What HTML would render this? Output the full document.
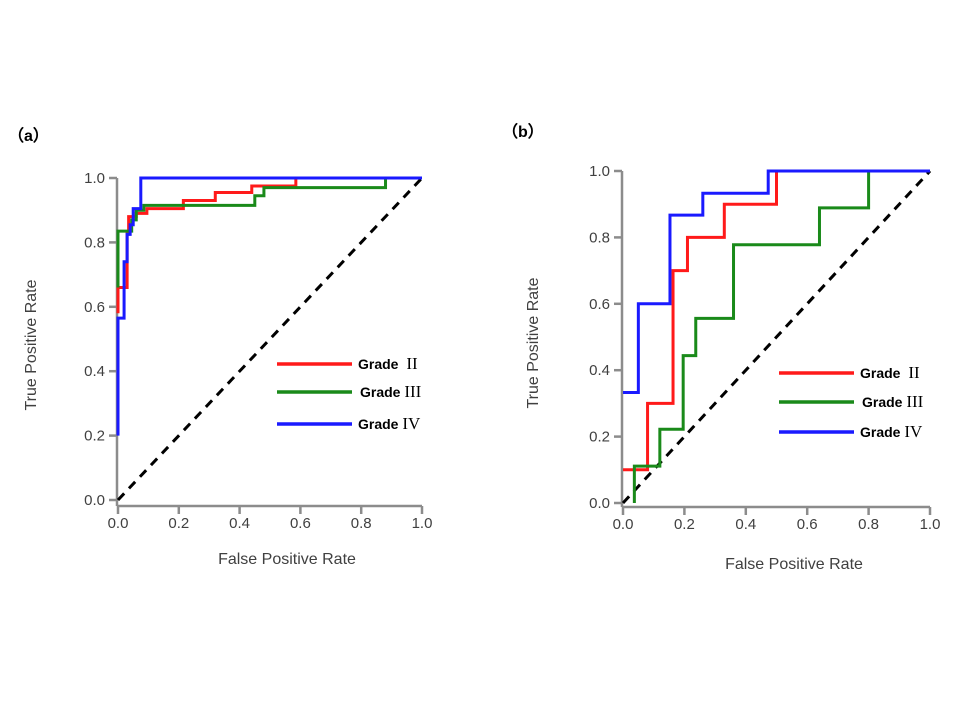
<!DOCTYPE html>
<html><head><meta charset="utf-8"><style>
body{margin:0;background:#fff;width:960px;height:720px;overflow:hidden}
svg{display:block}
text{font-family:"Liberation Sans",Arial,sans-serif}
</style></head><body>
<svg id="c" width="960" height="720" xmlns="http://www.w3.org/2000/svg"></svg>
<script>
const ticks=[0,0.2,0.4,0.6,0.8,1.0];
const tickLabels=["0.0","0.2","0.4","0.6","0.8","1.0"];
const seriesNames=["Grade ","Grade ","Grade "];
const seriesNumerals=["II","III","IV"];
const seriesColors=["#ff1a1a","#1a8a1a","#1a1aff"];
const aRed=[[0,0.58],[0,0.66],[0.03,0.66],[0.03,0.83],[0.035,0.83],[0.035,0.88],[0.06,0.88],[0.06,0.89],[0.095,0.89],[0.095,0.905],[0.215,0.905],[0.215,0.93],[0.32,0.93],[0.32,0.955],[0.44,0.955],[0.44,0.975],[0.585,0.975],[0.585,1.0]];
const aGreen=[[0,0.66],[0,0.835],[0.045,0.835],[0.045,0.87],[0.06,0.87],[0.06,0.9],[0.085,0.9],[0.085,0.915],[0.45,0.915],[0.45,0.945],[0.48,0.945],[0.48,0.97],[0.88,0.97],[0.88,1.0]];
const aBlue=[[0,0.2],[0,0.565],[0.02,0.565],[0.02,0.74],[0.03,0.74],[0.03,0.825],[0.04,0.825],[0.04,0.855],[0.05,0.855],[0.05,0.905],[0.075,0.905],[0.075,1.0],[1.0,1.0]];
const bRed=[[0,0.1],[0.08,0.1],[0.08,0.3],[0.163,0.3],[0.163,0.7],[0.21,0.7],[0.21,0.8],[0.33,0.8],[0.33,0.9],[0.5,0.9],[0.5,1.0]];
const bGreen=[[0.037,0],[0.037,0.111],[0.12,0.111],[0.12,0.222],[0.196,0.222],[0.196,0.444],[0.237,0.444],[0.237,0.556],[0.36,0.556],[0.36,0.778],[0.64,0.778],[0.64,0.889],[0.8,0.889],[0.8,1.0]];
const bBlue=[[0,0.333],[0.05,0.333],[0.05,0.6],[0.153,0.6],[0.153,0.867],[0.26,0.867],[0.26,0.933],[0.473,0.933],[0.473,1.0],[1.0,1.0]];

const NS="http://www.w3.org/2000/svg";
const svg=document.getElementById('c');
function mk(tag,attrs,parent,txt){const e=document.createElementNS(NS,tag);for(const k in attrs)e.setAttribute(k,attrs[k]);if(txt!==undefined)e.textContent=txt;(parent||svg).appendChild(e);return e;}

function panel(id,x0,x1,y0,y1,axisY,series,leg,yT,xT,lab){
  const g=mk('g',{});
  
  
  const sx=v=>x0+v*(x1-x0), sy=v=>y0+v*(y1-y0);
  const ax=mk('path',{d:`M${x0-1},${sy(1)} V${axisY} M${x0-1},${axisY} H${x1}`,stroke:'#8c8c8c','stroke-width':2.5,fill:'none'},g);
  
  
  ticks.forEach((t,i)=>{
    mk('line',{x1:x0-9,x2:x0-1,y1:sy(t),y2:sy(t),stroke:'#8c8c8c','stroke-width':2.5},g);
    const yl=mk('text',{x:x0-13,y:sy(t)+5,'text-anchor':'end','font-size':15,fill:'#404040'},g,tickLabels[i]);
    
    
    mk('line',{x1:sx(t),x2:sx(t),y1:axisY,y2:axisY+8,stroke:'#8c8c8c','stroke-width':2.5},g);
    const xl=mk('text',{x:sx(t),y:axisY+22,'text-anchor':'middle','font-size':15,fill:'#404040'},g,tickLabels[i]);
    
    
  });
  const d=mk('line',{x1:sx(0),y1:sy(0),x2:sx(1),y2:sy(1),stroke:'#000','stroke-width':3,'stroke-dasharray':'9,7'},g);
  
  
  series.forEach((s,i)=>{
    const p=mk('polyline',{points:s.map(q=>sx(q[0])+','+sy(q[1])).join(' '),fill:'none',stroke:seriesColors[i],'stroke-width':3},g);
    
    
  });
  seriesNames.forEach((n,i)=>{
    const yy=leg.y[i];
    const l=mk('line',{x1:leg.x,x2:leg.x+75,y1:yy,y2:yy,stroke:seriesColors[i],'stroke-width':3.5},g);
    
    
    const t=mk('text',{x:leg.x+81+(i==1?2:0),y:yy+5,'font-size':14,'font-weight':'bold',fill:'#000'},g,n);
    
    
    const ts=mk('tspan',{'font-family':'Liberation Serif, serif','font-size':17,'font-weight':'normal',dx:(i==0?4:0)},t,seriesNumerals[i]);
  });
  const yt=mk('text',{x:yT[0],y:yT[1],'text-anchor':'middle','font-size':16,fill:'#404040',transform:`rotate(-90 ${yT[0]} ${yT[1]})`},g,'True Positive Rate');
  
  
  const xt=mk('text',{x:xT[0],y:xT[1],'text-anchor':'middle','font-size':16,fill:'#404040'},g,'False Positive Rate');
  
  
  const pl=mk('text',{x:lab[0],y:lab[1],'font-size':16,'font-weight':'bold',fill:'#000'},g,lab[2]);
  
  
}
panel('a',118,422,500,178,506,[aRed,aGreen,aBlue],{x:277,y:[364,392,424]},[36,345],[287,564],[8,141,'（a）']);
panel('b',623,930,503,171,507,[bRed,bGreen,bBlue],{x:779,y:[373,402,432]},[538,343],[794,569],[502,137,'（b）']);
</script>
</body></html>
